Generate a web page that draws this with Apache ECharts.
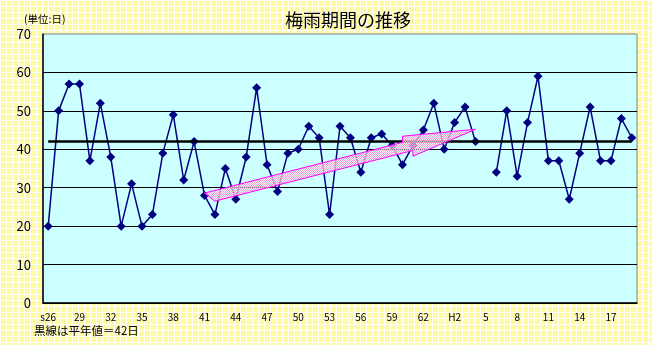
<!DOCTYPE html>
<html>
<head>
<meta charset="utf-8">
<script src="https://cdn.jsdelivr.net/npm/echarts@6/dist/echarts.min.js"></script>
<style>
  html, body { margin: 0; padding: 0; }
  #chart {
    width: 652px; height: 345px;
    background-color: #fffa9e;
    background-image:
      linear-gradient(to right, #ffffff 1px, transparent 1px),
      linear-gradient(to bottom, #ffffff 1px, transparent 1px);
    background-size: 6px 6px;
  }
</style>
</head>
<body>
<div id="chart"></div>
<script>
// Rainy-season length in days, Showa 26 to Heisei 19 (H5: no value)
const years = [
  's26','27','28','29','30','31','32','33','34','35',
  '36','37','38','39','40','41','42','43','44','45',
  '46','47','48','49','50','51','52','53','54','55',
  '56','57','58','59','60','61','62','63','H1','H2',
  '3','4','5','6','7','8','9','10','11','12',
  '13','14','15','16','17','18','19'
];
const days = [
  20, 50, 57, 57, 37, 52, 38, 20, 31, 20,
  23, 39, 49, 32, 42, 28, 23, 35, 27, 38,
  56, 36, 29, 39, 40, 46, 43, 23, 46, 43,
  34, 43, 44, 41, 36, 41, 45, 52, 40, 47,
  51, 42, null, 34, 50, 33, 47, 59, 37, 37,
  27, 39, 51, 37, 37, 48, 43
];
const normalDays = 42;

// Trend arrow outline in axis units: [category index, days]
const trendArrow = [
  [15.36, 28.6], [34.3, 41.8], [34.3, 43.4], [40.8, 45.2],
  [34.6, 38.2], [34.6, 39.7], [15.55, 26.5]
];

const FONT = '"Noto Sans CJK JP", "Liberation Sans", sans-serif';

const chart = echarts.init(document.getElementById('chart'), null, { renderer: 'canvas' });

chart.setOption({
  animation: false,
  title: {
    text: '梅雨期間の推移',
    left: 343, top: 6, textAlign: 'center',
    textStyle: { fontSize: 18, fontWeight: 'normal', color: '#000', fontFamily: FONT }
  },
  grid: {
    left: 43, right: 15, top: 34, bottom: 42,
    show: true, backgroundColor: '#ccffff', borderColor: '#808080', borderWidth: 1
  },
  xAxis: {
    type: 'category', data: years, boundaryGap: true,
    axisLine: { lineStyle: { color: '#000', width: 1.5 } },
    axisTick: { interval: 0, length: 4, lineStyle: { color: '#000' } },
    axisLabel: { interval: 2, fontSize: 10, color: '#000', margin: 9, fontFamily: FONT },
    splitLine: { show: false }
  },
  yAxis: {
    type: 'value', min: 0, max: 70, interval: 10,
    axisLine: { show: true, lineStyle: { color: '#000', width: 1.5 } },
    axisTick: { show: false },
    axisLabel: { fontSize: 13, color: '#000', margin: 12, fontFamily: FONT },
    splitLine: { showMaxLine: false, lineStyle: { color: '#000', width: 1 } }
  },
  series: [{
    type: 'line', data: days, connectNulls: false,
    symbol: 'diamond', symbolSize: 9, showAllSymbol: true,
    lineStyle: { color: '#000080', width: 1.5 },
    itemStyle: { color: '#000080' },
    z: 3,
    markLine: {
      silent: true, symbol: 'none', label: { show: false },
      lineStyle: { color: '#000', width: 2.5, type: 'solid' },
      data: [[{ coord: [0, normalDays] }, { coord: [years.length - 1, normalDays] }]]
    }
  }]
});

// pink checker fill for the trend arrow
const tile = document.createElement('canvas');
tile.width = 2; tile.height = 2;
const tctx = tile.getContext('2d');
tctx.fillStyle = 'rgba(255,255,255,0.55)';
tctx.fillRect(0, 0, 2, 2);
tctx.fillStyle = '#ff99cc';
tctx.fillRect(0, 0, 1, 1);
tctx.fillRect(1, 1, 1, 1);

const arrowPts = trendArrow.map(p => chart.convertToPixel({ seriesIndex: 0 }, p));

chart.setOption({
  graphic: [
    {
      type: 'polygon', id: 'trend', z: 50,
      shape: { points: arrowPts },
      style: { fill: { image: tile, repeat: 'repeat' }, stroke: '#ff00ff', lineWidth: 1 }
    },
    {
      type: 'text', id: 'unit', left: 24, top: 14, z: 60,
      style: { text: '(単位:日)', fontSize: 10.5, fill: '#000', fontFamily: FONT }
    },
    {
      type: 'text', id: 'note', left: 34, top: 325, z: 60,
      style: { text: '黒線は平年値＝42日', fontSize: 11.5, fill: '#000', fontFamily: FONT }
    }
  ]
});
</script>
</body>
</html>
